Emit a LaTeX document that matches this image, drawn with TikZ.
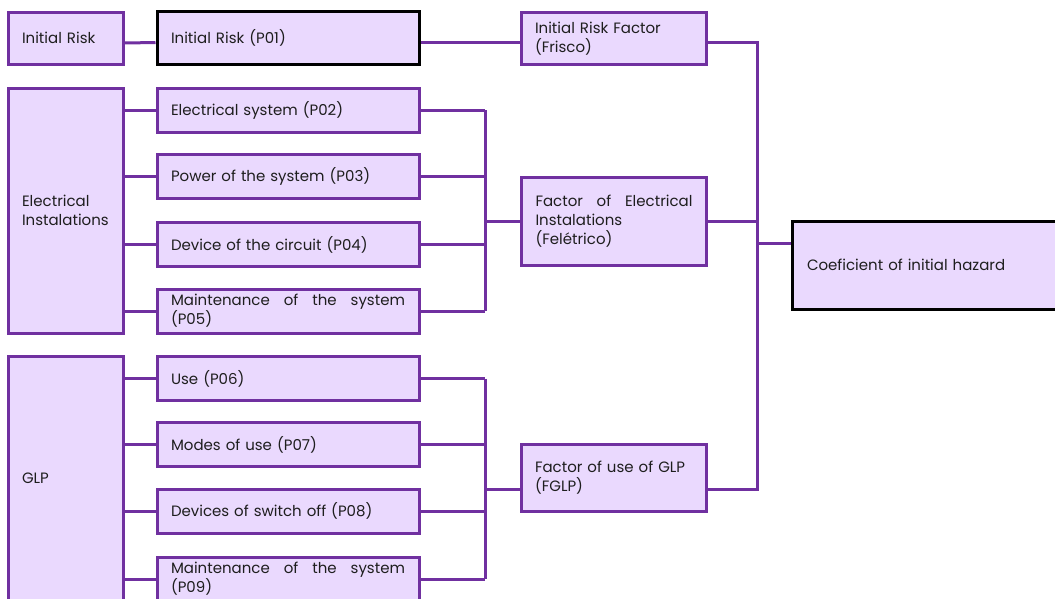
\documentclass[tikz,border=0pt]{standalone}
\usepackage{fontspec}
\setmainfont{Poppins}
\definecolor{pur}{HTML}{7030A0}
\definecolor{lav}{HTML}{EAD9FE}
\definecolor{txt}{HTML}{1E1E1E}
\begin{document}
\begin{tikzpicture}[x=1pt,y=-1pt,
  box/.style={draw=pur,fill=lav,line width=3pt,inner sep=0pt,text=txt,
    font=\fontsize{15}{19}\selectfont,align=left},
  kbox/.style={box,draw=black},
  conn/.style={draw=pur,line width=3pt}]
\useasboundingbox (0,0) rectangle (1055,598);
\clip (0,0) rectangle (1055,598);
% left column
\node[box,minimum width=115,minimum height=52,text width=87] (ir) at (65.5,38) {Initial Risk};
\node[box,minimum width=115,minimum height=245,text width=87] (elec) at (65.5,210.5) {Electrical\\Instalations};
\node[box,minimum width=115,minimum height=244,text width=87] (glp) at (65.5,478) {GLP};
% middle column
\node[kbox,minimum width=262,minimum height=53,text width=234] (p01) at (288,37.5) {Initial Risk (P01)};
\node[box,minimum width=262,minimum height=44,text width=234] (p02) at (288,110) {Electrical system (P02)};
\node[box,minimum width=262,minimum height=44,text width=234] (p03) at (288,176.5) {Power of the system (P03)};
\node[box,minimum width=262,minimum height=44,text width=234] (p04) at (288,244.5) {Device of the circuit (P04)};
\node[box,minimum width=262,minimum height=44,text width=234] (p05) at (288,311) {\hbox to 234pt{Maintenance\hfill of\hfill the\hfill system}\\(P05)};
\node[box,minimum width=262,minimum height=44,text width=234] (p06) at (288,378.5) {Use (P06)};
\node[box,minimum width=262,minimum height=44,text width=234] (p07) at (288,444.5) {Modes of use (P07)};
\node[box,minimum width=262,minimum height=44,text width=234] (p08) at (288,511) {Devices of switch off (P08)};
\node[box,minimum width=262,minimum height=44,text width=234] (p09) at (288,579) {\hbox to 234pt{Maintenance\hfill of\hfill the\hfill system}\\(P09)};
% factors
\node[box,minimum width=185,minimum height=52,text width=157] (frisco) at (613.5,38.5) {Initial Risk Factor\\(Frisco)};
\node[box,minimum width=185,minimum height=88,text width=157] (felec) at (614,221) {\hbox to 157pt{Factor\hfill of\hfill Electrical}\\Instalations\\(Felétrico)};
\node[box,minimum width=185,minimum height=67,text width=157] (fglp) at (613.5,478) {Factor of use of GLP\\(FGLP)};
% result
\node[kbox,minimum width=270,minimum height=88,text width=240] (coef) at (927,265) {Coeficient of initial hazard};
% buses
\coordinate (be) at (485,0);
\coordinate (bf) at (757,0);
% connectors
\draw[conn] ([yshift=-5pt]ir.east) -- ([yshift=-5pt]p01.west);
\draw[conn] ([yshift=-5pt]p01.east) -- ([yshift=-4pt]frisco.west);
\foreach \p in {p02,p03,p04,p05,p06,p07,p08,p09}{
  \draw[conn] (\p.west -| elec.east) -- (\p.west);
  \draw[conn] (\p.east) -- (\p.east -| be);
}
\draw[conn] (p02.east -| be) -- (p05.east -| be);
\draw[conn] (p06.east -| be) -- (p09.east -| be);
\draw[conn] (felec.west -| be) -- (felec.west);
\draw[conn] ([yshift=-11pt]fglp.west -| be) -- ([yshift=-11pt]fglp.west);
\draw[conn] ([yshift=-4pt]frisco.east) -- ([yshift=-4pt]frisco.east -| bf) -- ([yshift=-11pt]fglp.east -| bf) -- ([yshift=-11pt]fglp.east);
\draw[conn] (felec.east) -- (felec.east -| bf);
\draw[conn] ([yshift=22pt]coef.west -| bf) -- ([yshift=22pt]coef.west);
\end{tikzpicture}
\end{document}
